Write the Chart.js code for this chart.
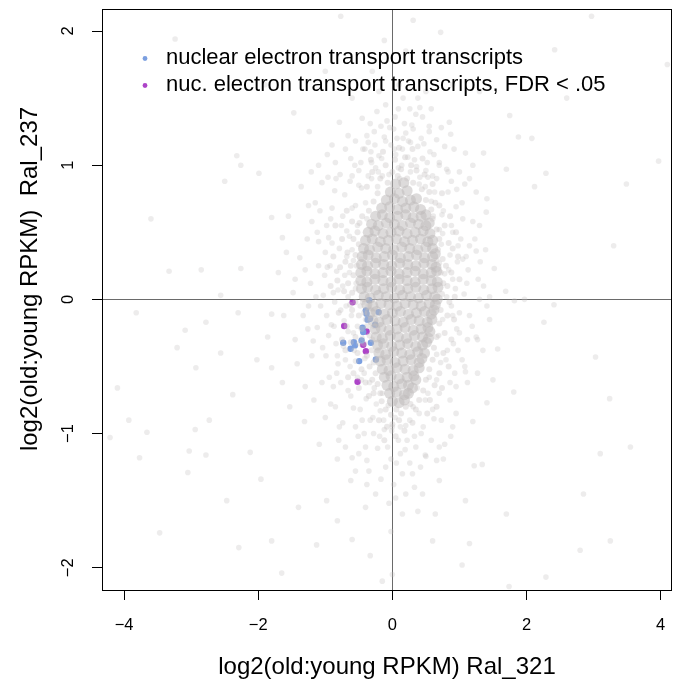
<!DOCTYPE html>
<html>
<head>
<meta charset="utf-8">
<script src="https://cdn.jsdelivr.net/npm/chart.js@4.4.1/dist/chart.umd.min.js"></script>
<style>
    html, body { margin: 0; padding: 0; background: #fff; }
    canvas { display: block; }
</style>
</head>
<body>
<canvas id="scatterChart" width="673" height="684"></canvas>
<script>
// axis limits and tick values
const xMin = -4.33, xMax = 4.17;
const yMin = -2.166, yMax = 2.164;
const xTicks = [-4, -2, 0, 2, 4];
const yTicks = [-2, -1, 0, 1, 2];

const xTitle = 'log2(old:young RPKM) Ral_321';
const yTitle = 'log2(old:young RPKM)  Ral_237';
const blueLabel = 'nuclear electron transport transcripts';
const purpleLabel = 'nuc. electron transport transcripts, FDR < .05';

// all transcripts, sparse outliers
const cloudOuter = [
    [-0.77,2.11],[2.97,2.11],[-3.24,1.94],[0.31,2.08],[0.72,1.99],[-0.12,1.93],[2.42,1.86],[3.97,1.03],[3.49,0.86],[-2.5,0.88],
    [-3.33,0.21],[-2.85,0.22],[-3.82,-0.1],[-4.1,-0.66],[-4.21,-1.03],[-3.93,-0.9],[-3.66,-0.99],[-3.77,-1.18],[-3.47,-1.74],[-2.47,-1.5],
    [-3.05,-1.29],[3.03,-0.43],[3.24,-0.74],[3.55,-1.1],[3.1,-1.15],[2.85,-1.45],[3.25,-1.8],[2.8,-1.87],[2.29,-2.07],[1.74,-2.14],
    [1.04,-1.98],[2.12,0.84],[2.29,0.94],[2.08,1.2],[1.75,1.37],[1.88,1.21],[2.41,-0.04],[1.97,0.0],[2.26,-0.17],[1.57,-0.37],
    [1.81,-0.69],[1.34,-1.23],[1.22,-1.24],[1.09,-1.5],[0.64,-1.6],[0.38,-1.58],[-0.6,-1.79],[-1.65,-2.04],[-1.13,-1.83],[-0.82,-1.65],
    [-0.98,-1.5],[-0.33,-1.91],[0.0,-2.05],[-0.02,-1.73],[1.15,-1.82],[-3.09,-0.23],[-2.93,-0.51],[-3.21,-0.36],[-2.78,-0.17],[-2.56,0.03],
    [-2.32,1.07],[-2.26,1.0],[-1.99,0.94],[-1.8,0.61],[-1.7,0.2],[-1.64,0.46],[-2.26,0.23],[-2.3,-0.1],[-2.56,-0.4],[-2.38,-0.71],
    [-2.02,-0.45],[-2.73,-0.9],[-2.94,-0.97],[-3.03,-1.13],[-2.12,-1.14],[-1.96,-1.34],[-1.8,-1.8],[-2.29,-1.85],[-2.78,-1.16],[-1.47,1.39],
    [-1.24,1.25],[-1.1,1.0],[-0.96,0.91],[-0.79,1.32],[-0.38,1.22],[-0.17,1.29],[0.27,1.17],[0.41,1.43],[0.55,1.29],[0.87,1.23],
    [1.09,1.09],[1.36,1.09],[1.2,1.0],[1.7,0.97],[1.41,0.75],[1.39,0.37],[1.52,0.23],[1.69,0.06],[1.82,-0.01],[1.41,-0.05],
    [1.25,-0.28],[1.09,-0.54],[0.95,-0.65],[1.41,-0.77],[1.2,-0.91],[0.87,-1.02],[0.76,-1.19],[0.49,-1.16],[0.33,-1.4],[-0.17,-1.34],
    [-0.55,-1.28],[-0.82,-1.19],[-1.09,-1.08],[-1.31,-0.91],[-1.53,-0.8],[-1.64,-0.62],[-1.8,-0.51],[-1.86,-0.28],[-1.8,-0.11],[0.1,1.6],
    [-0.3,1.7],[0.5,1.55],[-0.6,1.5],[0.9,1.6],[0.2,1.85],[-1.0,1.7],[1.3,1.55],[-1.9,1.6],[2.6,1.5],[3.3,0.4],
    [-3.6,0.6],[4.1,1.75],[0.6,-1.8],[-0.4,-1.55],[0.15,-1.6],[-1.4,-1.55],[1.7,-1.6],[-0.15,-2.1]
];

// all transcripts, halo around the core
const cloudHalo = [
    [-0.62,1.05],[-0.41,1.12],[-0.25,0.98],[-0.12,1.21],[0.05,1.08],[0.18,1.31],[0.27,0.95],[0.38,1.14],[0.52,1.02],[0.66,1.19],
    [0.81,0.97],[-0.78,0.93],[-0.33,1.31],[0.09,1.42],[0.45,1.36],[-0.05,0.93],[0.14,1.0],[0.33,1.04],[0.6,0.92],[-0.5,0.96],
    [0.92,1.12],[-0.2,1.07],[0.24,1.18],[0.73,1.28],[-0.9,1.15],[0.02,1.27],[0.41,0.91],[-0.15,0.92],[0.11,0.9],[0.55,1.25],
    [-1.15,0.72],[-0.98,0.55],[-0.86,0.81],[-0.74,0.62],[-0.63,0.88],[-0.55,0.7],[-0.46,0.83],[-0.38,0.6],[-0.31,0.9],[-0.68,0.51],
    [-0.52,0.55],[-0.9,0.68],[-1.05,0.87],[0.49,0.84],[0.58,0.73],[0.66,0.9],[0.74,0.63],[0.83,0.8],[0.95,0.69],[1.08,0.86],
    [1.2,0.58],[0.7,0.52],[0.88,0.55],[0.61,0.62],[0.53,0.91],[1.0,0.95],[-0.22,0.84],[0.4,0.86],
    [-1.38,0.31],[-1.22,0.12],[-1.1,0.43],[-0.97,0.24],[-0.88,0.05],[-0.79,0.38],[-0.71,0.18],[-0.64,0.47],[-0.58,0.29],[-0.55,0.08],
    [-0.66,0.02],[-0.83,0.21],[-0.95,0.46],[-1.03,0.03],[-1.27,0.45],[-0.6,0.37],[-0.74,0.1],[0.73,0.41],[0.78,0.19],[0.86,0.33],
    [0.94,0.08],[1.02,0.45],[1.13,0.22],[1.25,0.36],[1.36,0.1],[0.81,0.02],[0.7,0.27],[0.97,0.28],[1.07,0.04],[0.75,0.49],[0.9,0.15],
    [-1.33,-0.12],[-1.18,-0.31],[-1.07,-0.05],[-0.99,-0.42],[-0.91,-0.19],[-0.84,-0.33],[-0.77,-0.08],[-0.7,-0.45],[-0.66,-0.24],[-0.61,-0.12],
    [-0.57,-0.38],[-0.52,-0.2],[-0.48,-0.05],[-0.45,-0.29],[-0.41,-0.44],[-0.63,-0.5],[-0.81,-0.48],[-0.95,-0.27],[-1.12,-0.21],[-0.72,-0.16],
    [-0.55,-0.46],[-0.5,-0.33],[-0.4,-0.15],[-0.86,-0.02],[0.63,-0.08],[0.69,-0.27],[0.75,-0.15],[0.82,-0.38],[0.88,-0.05],[0.96,-0.22],
    [1.04,-0.45],[1.15,-0.12],[1.27,-0.3],[0.72,-0.47],[0.91,-0.33],[0.66,-0.41],
    [-1.05,-0.62],[-0.92,-0.78],[-0.83,-0.55],[-0.74,-0.92],[-0.66,-0.68],[-0.58,-0.81],[-0.51,-1.02],[-0.46,-0.6],[-0.39,-0.74],[-0.33,-0.9],
    [-0.27,-0.66],[-0.22,-1.11],[-0.18,-0.83],[-0.12,-0.97],[-0.06,-0.79],[-0.02,-1.19],[0.04,-0.88],[0.09,-1.05],[0.14,-0.72],[0.2,-0.94],
    [0.26,-1.22],[0.31,-0.8],[0.37,-0.66],[0.43,-1.0],[0.49,-0.75],[0.55,-0.58],[0.62,-0.89],[0.7,-0.7],[0.78,-1.08],[0.86,-0.62],
    [-0.6,-1.18],[-0.35,-1.28],[0.15,-1.3],[-0.8,-1.05],[0.5,-1.17],[-0.15,-0.7],[0.25,-0.7],[-0.42,-0.55],[0.0,-0.95],[0.35,-1.1],
    [-0.55,1.18],[-0.47,1.02],[-0.36,1.17],[-0.27,1.25],[-0.23,1.4],[-0.08,1.33],[-0.02,1.15],[0.07,1.2],[0.15,1.12],[0.2,1.24],
    [0.31,1.27],[0.35,1.38],[0.47,1.16],[0.62,1.08],[0.7,1.02],[0.78,1.14],[-0.7,1.12],[-0.6,0.92],[0.16,1.5],[-0.1,1.45],
    [0.58,1.42],[-0.45,1.35],[0.85,1.32],[-0.85,1.02],[0.04,1.36],[0.26,1.42],[-0.32,1.1],[0.88,0.88],
    [-1.0,0.35],[-0.92,0.6],[-1.2,0.58],[-1.45,0.15],[-1.25,-0.05],[-1.1,0.25],[-0.98,-0.12],[-1.2,-0.42],[-1.45,-0.3],[1.05,0.6],
    [1.15,0.4],[1.28,0.15],[1.12,-0.3],[1.0,-0.1],[1.3,0.55],[1.45,-0.15],[1.05,0.3],[0.98,-0.38],[-0.88,-0.65],[-1.0,-0.88],
    [0.95,-0.85],[1.12,-0.62],[-1.3,-0.65],[1.25,0.8],
    [-0.45,-0.9],[-0.4,-1.1],[-0.28,-1.0],[-0.1,-1.25],[0.02,-1.38],[0.12,-1.15],[0.22,-1.05],[0.3,-1.3],[0.42,-1.25],[0.58,-1.05],
    [0.66,-1.2],[-0.55,-0.95],[-0.7,-1.1],[-0.25,-1.45],[0.45,-1.45],[-0.05,-1.52],[0.2,-1.45],[-0.62,-1.35],[0.7,-1.35],[-0.38,-1.38]
];

// all transcripts, more of the mid-density field
const cloudField = [
    [-1.55,0.62],[-1.48,0.05],[-1.42,-0.48],[-1.36,0.84],[-1.3,0.22],[-1.26,-0.22],[-1.21,0.95],[-1.17,-0.75],[-1.14,0.02],[-1.08,0.66],
    [-1.04,-0.36],[-1.01,0.18],[-0.97,1.08],[-0.94,-0.58],[-0.9,0.42],[-0.87,-0.2],[-0.84,0.9],[-0.81,0.07],[-0.79,-0.95],[-0.76,0.55],
    [-0.73,-0.35],[-0.71,0.78],[-0.69,-0.05],[-0.66,1.22],[-0.64,0.2],[-0.62,-0.72],[-0.6,0.68],[-0.58,-0.25],[-0.56,1.0],[-0.54,0.12],
    [-0.52,-0.58],[-0.5,0.85],[-0.48,-0.82],[-0.46,0.3],[-0.44,1.12],[-0.42,-1.0],[-0.4,0.72],[-0.38,-1.2],[-0.36,0.92],[-0.34,-0.62],
    [-0.31,1.02],[-0.29,-0.88],[-0.26,1.15],[-0.24,-0.78],[-0.21,0.95],[-0.19,-1.02],[-0.16,1.05],[-0.13,-0.9],[-0.1,1.18],[-0.07,-1.1],
    [-0.04,1.28],[-0.01,-0.98],[0.03,1.12],[0.06,-1.22],[0.09,0.98],[0.12,-0.95],[0.16,1.2],[0.19,-1.12],[0.23,1.06],[0.26,-0.9],
    [0.29,1.3],[0.33,-1.02],[0.36,0.99],[0.4,-0.85],[0.43,1.2],[0.46,-0.95],[0.5,0.96],[0.53,-0.7],[0.56,1.1],[0.6,-0.82],
    [0.63,0.8],[0.66,-0.6],[0.7,1.0],[0.73,-0.9],[0.76,0.66],[0.8,-0.45],[0.83,0.95],[0.86,-0.75],[0.9,0.5],[0.93,-0.55],
    [0.96,0.82],[1.0,-0.25],[1.04,0.72],[1.08,-0.5],[1.11,0.12],[1.15,0.9],[1.19,-0.2],[1.23,0.45],[1.27,-0.55],[1.31,0.28],
    [1.35,-0.38],[1.4,0.65],[1.45,0.02],[1.5,-0.6],[-1.62,-0.12],[-1.58,0.35],[-0.82,-0.42],[-0.68,0.32],[-0.77,-0.62],[0.84,0.22],
    [0.9,-0.12],[0.98,0.4],[-0.93,0.25],[-1.12,0.5],[1.1,0.32],[0.05,-1.48],[-0.2,1.55],[0.38,1.5],[-0.5,-1.15],[0.7,-1.1],
    [-0.85,-0.8],[0.9,-0.95],[-1.25,0.7],[1.3,0.0]
];

// all transcripts, dense ring just outside the core
const cloudRing = [
    [-0.38,0.84],[-0.3,0.95],[-0.22,0.79],[-0.18,0.9],[-0.1,1.0],[-0.07,0.87],[0.0,0.95],[0.04,1.04],[0.08,0.92],[0.13,0.97],
    [0.19,1.06],[0.22,0.9],[0.28,1.0],[0.31,0.87],[0.36,0.96],[0.44,0.82],[0.48,0.93],[0.55,0.8],[0.6,0.86],[-0.28,0.73],
    [-0.35,0.66],[0.5,0.74],[0.58,0.67],[-0.14,1.1],[0.3,1.12],[0.1,1.13],[-0.32,1.04],[0.45,1.05],
    [-0.45,0.62],[-0.52,0.5],[-0.6,0.58],[-0.5,0.41],[-0.58,0.45],[-0.67,0.35],[-0.55,0.33],[-0.62,0.25],[-0.7,0.28],[-0.58,0.18],
    [-0.66,0.12],[-0.78,0.24],[-0.6,0.05],[-0.72,0.06],[-0.55,-0.02],[-0.82,0.14],[-0.88,0.32],[-0.75,0.45],[-0.85,0.55],[-0.68,0.66],
    [-0.53,0.25],[-0.63,-0.04],[-0.8,-0.1],[-0.92,0.1],[-0.49,0.57],
    [0.6,0.6],[0.66,0.52],[0.7,0.45],[0.68,0.37],[0.75,0.3],[0.72,0.2],[0.76,0.12],[0.74,0.04],[0.8,0.25],[0.84,0.42],
    [0.82,0.1],[0.88,0.2],[0.9,0.38],[0.78,0.55],[0.86,0.62],[0.7,0.7],[0.95,0.5],[1.0,0.15],[0.93,0.02],[0.66,0.29],
    [0.64,0.72],[0.74,0.79],[0.98,0.32],[0.85,-0.02],
    [0.72,-0.08],[0.7,-0.18],[0.66,-0.28],[0.62,-0.36],[0.6,-0.45],[0.55,-0.52],[0.5,-0.6],[0.46,-0.68],[0.4,-0.75],[0.78,-0.25],
    [0.76,-0.4],[0.7,-0.55],[0.63,-0.64],[0.56,-0.75],[0.82,-0.12],[0.88,-0.3],[0.84,-0.5],[0.52,-0.85],[0.35,-0.82],[0.66,-0.8],
    [0.74,-0.66],[0.92,-0.15],
    [-0.1,-0.82],[-0.02,-0.86],[0.06,-0.82],[0.13,-0.85],[0.2,-0.8],[0.27,-0.78],[-0.16,-0.76],[0.0,-0.93],[0.1,-0.9],[-0.08,-0.95],
    [0.18,-0.98],[0.3,-0.92],[-0.2,-0.9],[0.05,-1.02],[-0.12,-1.05],
    [-0.42,-0.1],[-0.38,-0.2],[-0.34,-0.27],[-0.31,-0.38],[-0.28,-0.47],[-0.25,-0.55],[-0.22,-0.63],[-0.18,-0.7],[-0.5,-0.12],[-0.46,-0.22],
    [-0.42,-0.33],[-0.38,-0.42],[-0.34,-0.5],[-0.3,-0.6],[-0.28,-0.7],[-0.55,-0.28],[-0.52,-0.4],[-0.46,-0.52],[-0.4,-0.62],[-0.35,-0.72],
    [-0.6,-0.08],[-0.62,-0.32],[-0.58,-0.55],[-0.5,-0.66],[-0.68,-0.2],[-0.7,-0.38],[-0.66,-0.58],[-0.75,-0.3],[-0.44,-0.02],[-0.36,-0.05],
    [-0.32,-0.14],[-0.27,-0.2],[-0.3,-0.3],[-0.22,-0.38],[-0.24,-0.45]
];

// all transcripts, dense core
const cloudCore = [
    [0.05,0.86],[0.17,0.87],
    [-0.03,0.8],[0.1,0.79],[0.22,0.81],
    [-0.09,0.74],[0.03,0.75],[0.15,0.73],[0.27,0.74],[0.36,0.75],
    [-0.16,0.68],[-0.04,0.69],[0.08,0.67],[0.2,0.68],[0.32,0.69],[0.42,0.67],
    [-0.25,0.62],[-0.15,0.63],[-0.04,0.61],[0.08,0.62],[0.2,0.63],[0.31,0.61],[0.43,0.62],[0.5,0.63],
    [-0.31,0.56],[-0.21,0.55],[-0.09,0.57],[0.03,0.56],[0.15,0.55],[0.27,0.57],[0.39,0.56],[0.5,0.55],[0.55,0.57],
    [-0.36,0.5],[-0.26,0.51],[-0.14,0.49],[-0.02,0.5],[0.1,0.51],[0.22,0.49],[0.34,0.5],[0.46,0.51],[0.56,0.49],
    [-0.4,0.44],[-0.3,0.45],[-0.18,0.43],[-0.06,0.44],[0.06,0.45],[0.18,0.43],[0.3,0.44],[0.42,0.45],[0.53,0.43],[0.6,0.44],
    [-0.43,0.38],[-0.34,0.37],[-0.22,0.39],[-0.1,0.38],[0.02,0.37],[0.14,0.39],[0.26,0.38],[0.38,0.37],[0.5,0.39],[0.6,0.38],
    [-0.45,0.32],[-0.36,0.33],[-0.24,0.31],[-0.12,0.32],[0.0,0.33],[0.12,0.31],[0.24,0.32],[0.36,0.33],[0.48,0.31],[0.6,0.32],[0.64,0.34],
    [-0.46,0.26],[-0.37,0.25],[-0.25,0.27],[-0.13,0.26],[-0.01,0.25],[0.11,0.27],[0.23,0.26],[0.35,0.25],[0.47,0.27],[0.59,0.26],[0.65,0.24],
    [-0.47,0.2],[-0.38,0.21],[-0.26,0.19],[-0.14,0.2],[-0.02,0.21],[0.1,0.19],[0.22,0.2],[0.34,0.21],[0.46,0.19],[0.58,0.2],[0.66,0.21],
    [-0.47,0.14],[-0.38,0.13],[-0.26,0.15],[-0.14,0.14],[-0.02,0.13],[0.1,0.15],[0.22,0.14],[0.34,0.13],[0.46,0.15],[0.58,0.14],[0.67,0.13],
    [-0.46,0.08],[-0.37,0.09],[-0.25,0.07],[-0.13,0.08],[-0.01,0.09],[0.11,0.07],[0.23,0.08],[0.35,0.09],[0.47,0.07],[0.59,0.08],[0.68,0.09],
    [-0.42,0.02],[-0.33,0.01],[-0.21,0.03],[-0.09,0.02],[0.03,0.01],[0.15,0.03],[0.27,0.02],[0.39,0.01],[0.51,0.03],[0.63,0.02],[0.67,0.0],
    [-0.38,-0.04],[-0.29,-0.05],[-0.17,-0.03],[-0.05,-0.04],[0.07,-0.05],[0.19,-0.03],[0.31,-0.04],[0.43,-0.05],[0.55,-0.03],[0.64,-0.04],
    [-0.33,-0.1],[-0.24,-0.09],[-0.12,-0.11],[0.0,-0.1],[0.12,-0.09],[0.24,-0.11],[0.36,-0.1],[0.48,-0.09],[0.58,-0.11],[0.62,-0.08],
    [-0.29,-0.16],[-0.2,-0.17],[-0.08,-0.15],[0.04,-0.16],[0.16,-0.17],[0.28,-0.15],[0.4,-0.16],[0.52,-0.17],[0.59,-0.15],
    [-0.26,-0.22],[-0.17,-0.21],[-0.05,-0.23],[0.07,-0.22],[0.19,-0.21],[0.31,-0.23],[0.43,-0.22],[0.53,-0.21],[0.56,-0.24],
    [-0.24,-0.28],[-0.15,-0.29],[-0.03,-0.27],[0.09,-0.28],[0.21,-0.29],[0.33,-0.27],[0.45,-0.28],[0.54,-0.29],
    [-0.22,-0.34],[-0.13,-0.33],[-0.01,-0.35],[0.11,-0.34],[0.23,-0.33],[0.35,-0.35],[0.45,-0.34],[0.51,-0.32],
    [-0.2,-0.4],[-0.1,-0.41],[0.02,-0.39],[0.14,-0.4],[0.26,-0.41],[0.38,-0.39],[0.48,-0.4],
    [-0.18,-0.46],[-0.08,-0.45],[0.04,-0.47],[0.16,-0.46],[0.28,-0.45],[0.4,-0.47],[0.44,-0.44],
    [-0.15,-0.52],[-0.05,-0.53],[0.07,-0.51],[0.19,-0.52],[0.31,-0.53],[0.4,-0.51],
    [-0.12,-0.58],[-0.02,-0.57],[0.1,-0.59],[0.22,-0.58],[0.32,-0.57],[0.35,-0.6],
    [-0.08,-0.64],[0.02,-0.65],[0.14,-0.63],[0.24,-0.64],[0.3,-0.66],
    [-0.04,-0.7],[0.06,-0.69],[0.18,-0.71],[0.24,-0.7],
    [0.0,-0.76],[0.1,-0.77],[0.18,-0.75]
];

// nuclear electron transport transcripts
const etBlue = [
    [-0.346,-0.007],[-0.206,-0.095],[-0.395,-0.082],[-0.385,-0.107],[-0.37,-0.151],[-0.335,-0.144],
    [-0.256,-0.189],[-0.444,-0.211],[-0.435,-0.244],[-0.733,-0.323],[-0.574,-0.319],[-0.459,-0.306],
    [-0.559,-0.343],[-0.623,-0.368],[-0.32,-0.323],[-0.495,-0.46],[-0.246,-0.448]
];

// nuclear electron transport transcripts with FDR < .05
const etPurple = [
    [-0.593,-0.022],[-0.718,-0.199],[-0.385,-0.239],[-0.435,-0.338],[-0.395,-0.386],[-0.519,-0.614]
];

const fontFamily = '"Liberation Sans", Arial, Helvetica, sans-serif';
Chart.defaults.font.family = fontFamily;
Chart.defaults.color = '#000';

function fmt(v) {
    return v < 0 ? '\u2212' + Math.abs(v) : String(v);
}

function toXY(list) {
    return list.map(([x, y]) => ({ x: x, y: y }));
}

// zero lines go over the gray cloud but under the coloured points
const zeroLines = {
    id: 'zeroLines',
    beforeDatasetDraw(chart, args) {
        if (args.index !== 5) return;
        const { ctx, chartArea, scales } = chart;
        const x0 = Math.round(scales.x.getPixelForValue(0)) + 0.5;
        const y0 = Math.round(scales.y.getPixelForValue(0)) + 0.5;
        ctx.save();
        ctx.strokeStyle = '#6a6a6a';
        ctx.lineWidth = 1;
        ctx.beginPath();
        ctx.moveTo(x0, chartArea.top);
        ctx.lineTo(x0, chartArea.bottom);
        ctx.moveTo(chartArea.left, y0);
        ctx.lineTo(chartArea.right, y0);
        ctx.stroke();
        ctx.restore();
    }
};

// box, tick labels (R style, y ones rotated), y title and the in-plot legend
const decorations = {
    id: 'decorations',
    afterDraw(chart) {
        const { ctx, chartArea, scales } = chart;
        ctx.save();
        ctx.strokeStyle = '#000';
        ctx.lineWidth = 1;
        ctx.strokeRect(chartArea.left + 0.5, chartArea.top + 0.5,
            chartArea.right - chartArea.left - 1, chartArea.bottom - chartArea.top);

        ctx.fillStyle = '#000';
        ctx.font = '16.5px ' + fontFamily;
        ctx.textAlign = 'center';
        ctx.textBaseline = 'middle';
        scales.x.ticks.forEach(t => {
            ctx.fillText(fmt(t.value), scales.x.getPixelForValue(t.value), 625);
        });
        scales.y.ticks.forEach(t => {
            ctx.save();
            ctx.translate(68, scales.y.getPixelForValue(t.value));
            ctx.rotate(-Math.PI / 2);
            ctx.fillText(fmt(t.value), 0, 0);
            ctx.restore();
        });

        // y title sits a little above the middle of the axis, as in the original
        ctx.save();
        ctx.font = '24px ' + fontFamily;
        ctx.translate(30, 279);
        ctx.rotate(-Math.PI / 2);
        ctx.fillText(yTitle, 0, 0);
        ctx.restore();

        ctx.font = '22px ' + fontFamily;
        ctx.textAlign = 'left';
        ctx.textBaseline = 'alphabetic';
        [5, 6].forEach((dsIndex, row) => {
            const ds = chart.data.datasets[dsIndex];
            const baseY = 64 + row * 27;
            ctx.fillStyle = ds.backgroundColor;
            ctx.beginPath();
            ctx.arc(145, baseY - 5.5, 2.4, 0, Math.PI * 2);
            ctx.fill();
            ctx.fillStyle = '#000';
            ctx.fillText(ds.label, 166, baseY);
        });
        ctx.restore();
    }
};

const ctx = document.getElementById('scatterChart').getContext('2d');
new Chart(ctx, {
    type: 'scatter',
    data: {
        datasets: [
            { label: 'all', data: toXY(cloudOuter), backgroundColor: 'rgba(196,192,192,0.3)', pointRadius: 2.8, borderWidth: 0 },
            { label: 'all', data: toXY(cloudHalo), backgroundColor: 'rgba(196,192,192,0.32)', pointRadius: 2.8, borderWidth: 0 },
            { label: 'all', data: toXY(cloudField), backgroundColor: 'rgba(196,192,192,0.3)', pointRadius: 2.8, borderWidth: 0 },
            { label: 'all', data: toXY(cloudRing), backgroundColor: 'rgba(196,192,192,0.36)', pointRadius: 3, borderWidth: 0 },
            { label: 'all', data: toXY(cloudCore), backgroundColor: 'rgba(190,186,186,0.52)', pointRadius: 5.5, borderWidth: 0 },
            { label: blueLabel, data: toXY(etBlue), backgroundColor: '#7b9fe0', pointRadius: 3.2, borderWidth: 0 },
            { label: purpleLabel, data: toXY(etPurple), backgroundColor: '#ad44c8', pointRadius: 3.2, borderWidth: 0 }
        ]
    },
    options: {
        responsive: false,
        animation: false,
        events: [],
        layout: { autoPadding: false, padding: { top: 9, right: 1, left: 0, bottom: 0 } },
        plugins: {
            legend: { display: false },
            tooltip: { enabled: false }
        },
        scales: {
            x: {
                type: 'linear',
                min: xMin,
                max: xMax,
                afterBuildTicks: s => { s.ticks = xTicks.map(v => ({ value: v })); },
                afterFit: s => { s.height = 94; },
                border: { display: false },
                grid: { drawOnChartArea: false, drawTicks: true, tickLength: 10, tickColor: '#000' },
                ticks: { display: false },
                title: { display: true, text: xTitle, color: '#000', font: { size: 24 }, padding: { top: 0, bottom: 2 } }
            },
            y: {
                type: 'linear',
                min: yMin,
                max: yMax,
                afterBuildTicks: s => { s.ticks = yTicks.map(v => ({ value: v })); },
                afterFit: s => { s.width = 102; },
                border: { display: false },
                grid: { drawOnChartArea: false, drawTicks: true, tickLength: 10, tickColor: '#000' },
                ticks: { display: false },
                title: { display: false }
            }
        }
    },
    plugins: [zeroLines, decorations]
});
</script>
</body>
</html>
